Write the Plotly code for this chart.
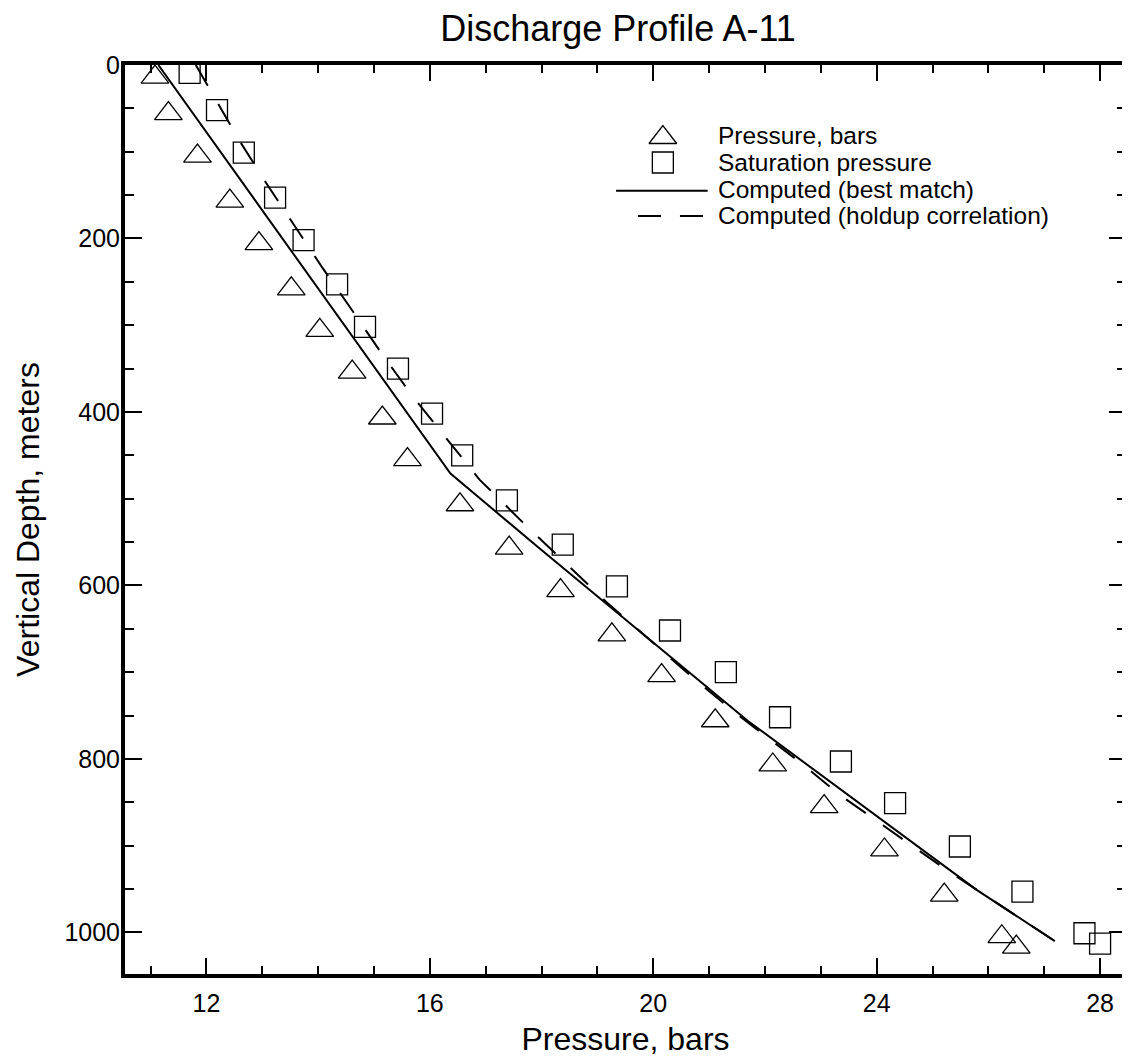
import plotly.graph_objects as go

# ---- data ----
tri_pressure = [11.08, 11.32, 11.84, 12.42, 12.94, 13.52, 14.03, 14.61, 15.15, 15.60, 16.54,
                17.42, 18.34, 19.26, 20.15, 21.11, 22.14, 23.06, 24.14, 25.21, 26.24, 26.50]
tri_depth = [14, 56, 105, 157, 206, 258, 306, 354, 407, 455, 507,
             557, 606, 657, 704, 756, 807, 855, 905, 957, 1005, 1017]

sat_pressure = [11.70, 12.19, 12.67, 13.23, 13.74, 14.34, 14.84, 15.43, 16.04, 16.58, 17.38,
                18.38, 19.35, 20.30, 21.30, 22.27, 23.36, 24.33, 25.49, 26.61, 27.72, 28.00]
sat_depth = [9, 52, 101, 153, 202, 253, 302, 350, 402, 450, 502,
             553, 601, 652, 700, 752, 803, 851, 901, 953, 1001, 1013]

best_pressure = [11.14, 16.37, 17.94, 21.69, 25.79, 27.19]
best_depth = [0, 471, 556, 756, 951, 1010]

hold_pressure = [11.81, 12.14, 12.59, 13.07, 13.56, 14.07, 14.59, 15.12, 15.68, 16.29, 16.89,
                 17.66, 18.44, 19.16, 19.94, 20.74, 21.45, 22.61, 23.35, 24.15, 25.25, 27.19]
hold_depth = [0, 37, 87, 136, 184, 233, 281, 331, 381, 430, 478,
              527, 575, 619, 663, 708, 746, 803, 842, 878, 928, 1010]

legend_labels = ["Pressure, bars", "Saturation pressure",
                 "Computed (best match)", "Computed (holdup correlation)"]

FONT = "Liberation Sans, Arial, Helvetica, sans-serif"
DASH = "24px,21px"

# the page body keeps its default 8px margin, so the figure is sized to fit after it
PAGE_OFFSET = 8
FIG_W, FIG_H = 1130 - PAGE_OFFSET, 1057 - PAGE_OFFSET

fig = go.Figure()

fig.add_trace(go.Scatter(x=tri_pressure, y=tri_depth, mode="markers", cliponaxis=False,
                         marker=dict(symbol="triangle-up-open", size=24, color="black",
                                     line=dict(width=1.3, color="black")),
                         showlegend=False))
fig.add_trace(go.Scatter(x=sat_pressure, y=sat_depth, mode="markers", cliponaxis=False,
                         marker=dict(symbol="square-open", size=21, color="black",
                                     line=dict(width=1.3, color="black")),
                         showlegend=False))
fig.add_trace(go.Scatter(x=best_pressure, y=best_depth, mode="lines",
                         line=dict(color="black", width=2), showlegend=False))
fig.add_trace(go.Scatter(x=hold_pressure, y=hold_depth, mode="lines",
                         line=dict(color="black", width=2, dash=DASH), showlegend=False))

# ---- legend drawn on an overlay axis measured in page pixels ----
fig.add_trace(go.Scatter(x=[665], y=[137.5], xaxis="x2", yaxis="y2", mode="markers",
                         cliponaxis=False,
                         marker=dict(symbol="triangle-up-open", size=24, color="black",
                                     line=dict(width=1.3, color="black")), showlegend=False))
fig.add_trace(go.Scatter(x=[665], y=[162.5], xaxis="x2", yaxis="y2", mode="markers",
                         cliponaxis=False,
                         marker=dict(symbol="square-open", size=21, color="black",
                                     line=dict(width=1.3, color="black")), showlegend=False))
fig.add_trace(go.Scatter(x=[618, 710], y=[190.7, 190.7], xaxis="x2", yaxis="y2", mode="lines",
                         line=dict(color="black", width=2), showlegend=False))
fig.add_trace(go.Scatter(x=[640, 706], y=[216, 216], xaxis="x2", yaxis="y2", mode="lines",
                         line=dict(color="black", width=2, dash="23px,19px"), showlegend=False))
for lab, yy in zip(legend_labels, [135, 162, 189, 215.5]):
    fig.add_annotation(x=718, y=yy, xref="x2", yref="y2", text=lab, showarrow=False,
                       xanchor="left", yanchor="middle",
                       font=dict(family=FONT, size=24.5, color="black"))

axis_common = dict(showline=True, linewidth=4, linecolor="black", mirror="ticks",
                   ticks="inside", tickcolor="black", tickwidth=1.5, showgrid=False,
                   zeroline=False, tickfont=dict(family=FONT, size=25, color="black"))

fig.update_layout(
    width=FIG_W, height=FIG_H,
    margin=dict(l=125 - PAGE_OFFSET, r=0, t=65 - PAGE_OFFSET, b=83),
    paper_bgcolor="white", plot_bgcolor="white",
    title=dict(text="Discharge Profile A-11", x=(618 - PAGE_OFFSET) / FIG_W, xanchor="center",
               y=1 - (28 - PAGE_OFFSET) / FIG_H, yanchor="middle", xref="container", yref="container",
               font=dict(family=FONT, size=36, color="black")),
    xaxis=dict(range=[10.543, 28.464], tick0=0, dtick=4, ticklen=16, ticklabelstandoff=4,
               minor=dict(dtick=1, ticklen=8, ticks="inside", tickcolor="black", tickwidth=1.5),
               title=dict(text="Pressure, bars", font=dict(family=FONT, size=32, color="black"),
                          standoff=14),
               **axis_common),
    yaxis=dict(range=[1048, 0], tick0=0, dtick=200, ticklen=17, ticklabelstandoff=-4,
               minor=dict(dtick=50, ticklen=9, ticks="inside", tickcolor="black", tickwidth=1.5),
               title=dict(text="Vertical Depth, meters", font=dict(family=FONT, size=32, color="black"),
                          standoff=16),
               **axis_common),
    xaxis2=dict(overlaying="x", range=[125, 1130], visible=False, anchor="y2"),
    yaxis2=dict(overlaying="y", range=[974, 65], visible=False, anchor="x2"),
)

fig.write_html("out.html")
